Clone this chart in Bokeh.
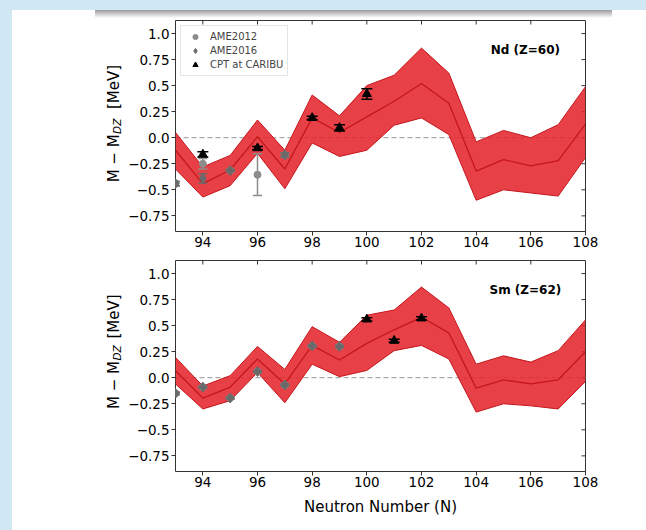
import numpy as np
from bokeh.plotting import figure
from bokeh.models import Range1d, FixedTicker, LinearAxis, Span, Label, Legend, LegendItem
from bokeh.layouts import column, row
from bokeh.core.properties import value
from bokeh.embed import file_html
from bokeh.resources import INLINE

# ---------------- data ----------------
N = [93, 94, 95, 96, 97, 98, 99, 100, 101, 102, 103, 104, 105, 106, 107, 108]

nd_upper = [0.05, -0.28, -0.17, 0.17, -0.12, 0.41, 0.21, 0.50, 0.60, 0.86, 0.62, -0.04, 0.07, 0.00, 0.125, 0.49]
nd_mid = [-0.12, -0.44, -0.31, 0.01, -0.30, 0.19, 0.05, 0.20, 0.35, 0.52, 0.33, -0.32, -0.21, -0.27, -0.22, 0.13]
nd_lower = [-0.30, -0.57, -0.46, -0.15, -0.49, -0.05, -0.18, -0.12, 0.12, 0.19, 0.03, -0.60, -0.50, -0.53, -0.56, -0.19]

sm_upper = [0.195, -0.08, 0.02, 0.30, 0.08, 0.49, 0.34, 0.60, 0.65, 0.87, 0.67, 0.13, 0.21, 0.15, 0.26, 0.555]
sm_mid = [0.067, -0.195, -0.09, 0.18, -0.06, 0.31, 0.17, 0.33, 0.46, 0.58, 0.43, -0.10, -0.02, -0.06, -0.02, 0.25]
sm_lower = [-0.06, -0.30, -0.22, 0.05, -0.24, 0.13, 0.01, 0.07, 0.26, 0.31, 0.18, -0.33, -0.25, -0.27, -0.30, -0.035]

nd_ame12_n = [93, 94, 95, 96, 97]
nd_ame12_v = [-0.44, -0.25, -0.315, -0.355, -0.165]
nd_ame12_e = [0.02, 0.05, 0.01, 0.20, 0.02]
nd_ame16_n = [93, 94, 95, 97]
nd_ame16_v = [-0.44, -0.39, -0.315, -0.165]
nd_ame16_e = [0.02, 0.045, 0.01, 0.02]
nd_cpt_n = [94, 96, 98, 99, 100]
nd_cpt_v = [-0.16, -0.10, 0.19, 0.095, 0.42]
nd_cpt_e = [0.025, 0.015, 0.015, 0.03, 0.05]

sm_ame12_n = [93, 94, 95, 96, 97, 98, 99]
sm_ame12_v = [-0.15, -0.09, -0.195, 0.06, -0.07, 0.305, 0.30]
sm_ame12_e = [0.01, 0.01, 0.01, 0.01, 0.01, 0.01, 0.01]
sm_ame16_n = [93, 94, 95, 96, 97, 98, 99]
sm_ame16_v = [-0.15, -0.09, -0.195, 0.06, -0.07, 0.305, 0.30]
sm_ame16_e = [0.01, 0.01, 0.01, 0.01, 0.01, 0.01, 0.01]
sm_cpt_n = [100, 101, 102]
sm_cpt_v = [0.56, 0.355, 0.57]
sm_cpt_e = [0.015, 0.015, 0.015]

x_ticks = [94, 96, 98, 100, 102, 104, 106, 108]
y_ticks = [-0.75, -0.5, -0.25, 0.0, 0.25, 0.5, 0.75, 1.0]
y_tick_labels = ["\u22120.75", "\u22120.5", "\u22120.25", "0.0", "0.25", "0.5", "0.75", "1.0"]

X0, X1 = 93, 108
Y0, Y1 = -0.9, 1.125

FONT = "DejaVu Sans"
BAND_FILL = "#e4262c"
BAND_EDGE = "#c4161c"
GRAY12 = "#8c8c8c"
GRAY16 = "#6a6a6a"
AX = "#333333"

LABEL_W = 112
MAIN_W = 522
FRAME_W = 410
FRAME_H = 211


def errbars(p, n, v, e, color, cap):
    lo = [a - b for a, b in zip(v, e)]
    hi = [a + b for a, b in zip(v, e)]
    p.segment(x0=n, y0=lo, x1=n, y1=hi, line_color=color, line_width=1.5)
    p.scatter(x=n, y=lo, marker="dash", size=cap, line_color=color, line_width=1.5)
    p.scatter(x=n, y=hi, marker="dash", size=cap, line_color=color, line_width=1.5)


def make_panel(height, border_top, border_bottom, upper, mid, lower,
               a12, a16, cpt, tag, xlabel):
    p = figure(width=MAIN_W, height=height, output_backend="svg", toolbar_location=None,
               x_range=Range1d(X0, X1), y_range=Range1d(Y0, Y1),
               min_border_left=51, min_border_right=MAIN_W - 51 - FRAME_W,
               min_border_top=border_top, min_border_bottom=border_bottom)
    p.xaxis.visible = False
    p.yaxis.visible = False
    p.grid.visible = False
    p.outline_line_color = AX
    p.outline_line_width = 1
    p.background_fill_color = "white"
    p.border_fill_color = "white"

    overrides = {t: s for t, s in zip(y_ticks, y_tick_labels)}

    xb = LinearAxis(ticker=FixedTicker(ticks=x_ticks), axis_line_color=None,
                    major_tick_out=4, major_tick_in=0, minor_tick_out=0, minor_tick_in=0,
                    major_tick_line_color=AX,
                    major_label_text_font=FONT, major_label_text_font_size="13.5px",
                    major_label_text_color="black", major_label_standoff=1)
    if xlabel:
        xb.axis_label = xlabel
        xb.axis_label_text_font = FONT
        xb.axis_label_text_font_size = "15px"
        xb.axis_label_text_font_style = "normal"
        xb.axis_label_text_color = "black"
        xb.axis_label_standoff = 8
    p.add_layout(xb, "below")

    yl = LinearAxis(ticker=FixedTicker(ticks=y_ticks), axis_line_color=None,
                    major_tick_out=4, major_tick_in=0, minor_tick_out=0, minor_tick_in=0,
                    major_tick_line_color=AX,
                    major_label_text_font=FONT, major_label_text_font_size="13.5px",
                    major_label_text_color="black", major_label_standoff=2,
                    major_label_overrides=overrides)
    p.add_layout(yl, "left")

    # inward ticks on the top and right spines (no labels)
    ty = (Y1 - Y0) * 4.0 / FRAME_H
    tx = (X1 - X0) * 4.0 / FRAME_W
    p.segment(x0=x_ticks, y0=[Y1] * len(x_ticks), x1=x_ticks, y1=[Y1 - ty] * len(x_ticks),
              line_color=AX, line_width=1)
    p.segment(x0=[X1] * len(y_ticks), y0=y_ticks, x1=[X1 - tx] * len(y_ticks), y1=y_ticks,
              line_color=AX, line_width=1)

    p.add_layout(Span(location=0, dimension="width", line_color="#aaaaaa",
                      line_dash="5 3", line_width=1.3, level="underlay"))

    p.varea(x=N, y1=lower, y2=upper, fill_color=BAND_FILL, fill_alpha=0.88)
    p.line(N, upper, line_color=BAND_EDGE, line_width=1)
    p.line(N, lower, line_color=BAND_EDGE, line_width=1)
    p.line(N, mid, line_color=BAND_EDGE, line_width=1.3)

    errbars(p, a12[0], a12[1], a12[2], GRAY12, 9)
    r12 = p.scatter(a12[0], a12[1], marker="circle", size=7, fill_color=GRAY12, line_color=GRAY12)
    errbars(p, a16[0], a16[1], a16[2], GRAY16, 9)
    r16 = p.scatter(a16[0], a16[1], marker="diamond", size=10, fill_color=GRAY16, line_color=GRAY16)
    errbars(p, cpt[0], cpt[1], cpt[2], "black", 11)
    rc = p.scatter(cpt[0], cpt[1], marker="triangle", size=9, fill_color="black", line_color="black")

    p.add_layout(Label(x=105.8, y=0.84, text=tag, text_align="center", text_baseline="middle",
                       text_font=FONT, text_font_size="12px", text_font_style="bold",
                       text_color="black"))
    return p, r12, r16, rc


def make_ylabel(height, y_join):
    """Narrow blank figure carrying the rotated 'M − M_DZ  [MeV]' label.
    y_join: position (px from the bottom) where 'M − M' ends and the subscript starts."""
    f = figure(width=LABEL_W, height=height, output_backend="svg", toolbar_location=None,
               x_range=Range1d(0, LABEL_W), y_range=Range1d(0, height),
               min_border=0, min_border_left=0, min_border_right=0,
               min_border_top=0, min_border_bottom=0)
    f.axis.visible = False
    f.grid.visible = False
    f.outline_line_color = None
    f.background_fill_color = "white"
    f.border_fill_color = "white"
    ang = np.pi / 2
    f.text(x=[101], y=[y_join], text=["M \u2212 M"], angle=ang, text_align="right",
           text_baseline="alphabetic", text_font=value(FONT), text_font_size="15px",
           text_color="black")
    f.text(x=[104.5], y=[y_join + 0.5], text=["DZ"], angle=ang, text_align="left",
           text_baseline="alphabetic", text_font=value(FONT), text_font_size="10.5px",
           text_font_style="italic", text_color="black")
    f.text(x=[101], y=[y_join + 28.8], text=["[MeV]"], angle=ang, text_align="left",
           text_baseline="alphabetic", text_font=value(FONT), text_font_size="15px",
           text_color="black")
    return f


H1, H2 = 240, 272
p1, r12, r16, rc = make_panel(H1, 2, 27, nd_upper, nd_mid, nd_lower,
                              (nd_ame12_n, nd_ame12_v, nd_ame12_e),
                              (nd_ame16_n, nd_ame16_v, nd_ame16_e),
                              (nd_cpt_n, nd_cpt_v, nd_cpt_e), "Nd (Z=60)", None)
p2, _, _, _ = make_panel(H2, 2, 59, sm_upper, sm_mid, sm_lower,
                         (sm_ame12_n, sm_ame12_v, sm_ame12_e),
                         (sm_ame16_n, sm_ame16_v, sm_ame16_e),
                         (sm_cpt_n, sm_cpt_v, sm_cpt_e), "Sm (Z=62)", "Neutron Number (N)")

legend = Legend(items=[LegendItem(label="AME2012", renderers=[r12]),
                       LegendItem(label="AME2016", renderers=[r16]),
                       LegendItem(label="CPT at CARIBU", renderers=[rc])],
                location="top_left", margin=5, padding=4, spacing=1,
                glyph_width=20, glyph_height=13, label_height=13, label_standoff=5,
                label_text_font=FONT, label_text_font_size="10px",
                border_line_color="#cccccc", border_line_width=1,
                background_fill_color="white", background_fill_alpha=0.8)
p1.add_layout(legend)

l1 = make_ylabel(H1, 110.5)
l2 = make_ylabel(H2, 142.5)

row1 = row(l1, p1, spacing=0)
row2 = row(l2, p2, spacing=0)
row1.margin = (18, 0, 0, 12)
row2.margin = (0, 0, 0, 12)

BLUE = "#cfe8f4"
bg = ("linear-gradient(to bottom, #9c9c9c, #ffffff) 95px 10px / 517px 8px no-repeat, "
      f"linear-gradient({BLUE}, {BLUE}) 0px 0px / 12px 100% no-repeat, "
      f"linear-gradient({BLUE}, {BLUE}) 0px 0px / 100% 10px no-repeat, white")

layout = column(row1, row2, spacing=0,
                styles={"position": "absolute", "left": "0px", "top": "0px",
                        "width": "646px", "height": "530px", "background": bg})

open("out.html", "w").write(file_html(layout, INLINE))
